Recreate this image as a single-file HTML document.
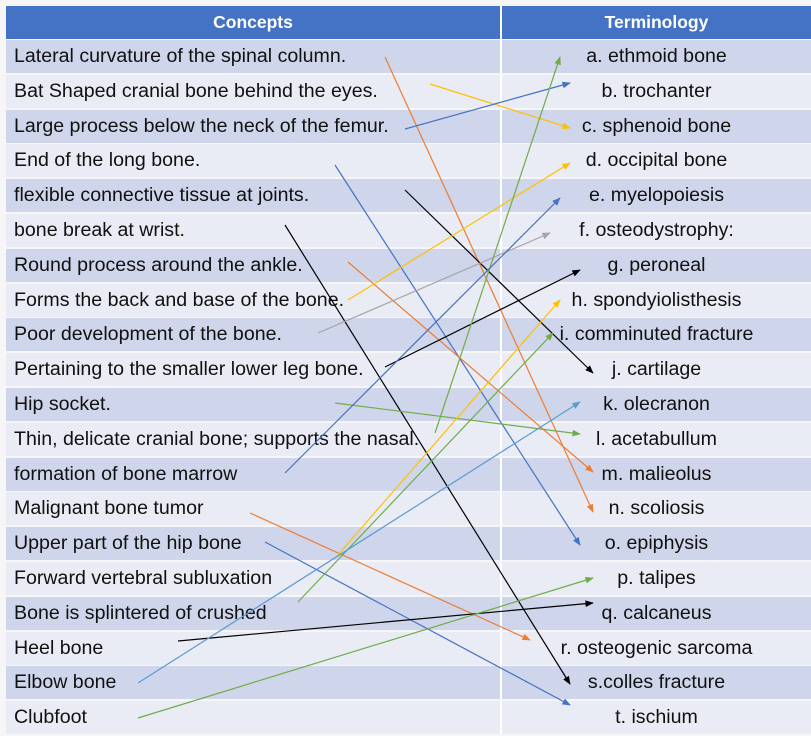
<!DOCTYPE html>
<html><head><meta charset="utf-8"><style>
body{margin:0;width:811px;height:736px;background:#f6f6f6;position:relative;overflow:hidden;font-family:"Liberation Sans",sans-serif}
.r{position:absolute;left:6px;width:805px;display:flex;box-sizing:border-box}
.c1,.c2{box-sizing:border-box;font-size:19.6px;color:#111;display:flex;align-items:center;white-space:nowrap}
.c1{width:496px;padding-left:8px;border-right:2px solid #fff}
.c2{flex:1;justify-content:center}
.h{top:6px;height:33px;background:#4472C4}
.h .c1,.h .c2{color:#fff;font-weight:bold;font-size:17.5px;justify-content:center;padding:0}
svg{position:absolute;left:0;top:0}
</style></head><body>
<div class="r h"><div class="c1">Concepts</div><div class="c2">Terminology</div></div>
<div id="rows"></div>
<script>
var L=["Lateral curvature of the spinal column.","Bat Shaped cranial bone behind the eyes.","Large process below the neck of the femur.","End of the long bone.","flexible connective tissue at joints.","bone break at wrist.","Round process around the ankle.","Forms the back and base of the bone.","Poor development of the bone.","Pertaining to the smaller lower leg bone.","Hip socket.","Thin, delicate cranial bone; supports the nasal.","formation of bone marrow","Malignant bone tumor","Upper part of the hip bone","Forward vertebral subluxation","Bone is splintered of crushed","Heel bone","Elbow bone","Clubfoot"];
var R=["a. ethmoid bone","b. trochanter","c. sphenoid bone","d. occipital bone","e. myelopoiesis","f. osteodystrophy:","g. peroneal","h. spondyiolisthesis","i. comminuted fracture","j. cartilage","k. olecranon","l. acetabullum","m. malieolus","n. scoliosis","o. epiphysis","p. talipes","q. calcaneus","r. osteogenic sarcoma","s.colles fracture","t. ischium"];
var h="";for(var i=0;i<20;i++){var t=40+i*34.8;h+='<div class="r" style="top:'+t+'px;height:33px;background:'+(i%2?'#E9EBF5':'#CFD5EA')+'"><div class="c1">'+L[i]+'</div><div class="c2">'+R[i]+'</div></div>';}
document.getElementById('rows').innerHTML=h;
</script>
<svg width="811" height="736">
<defs>
<marker id="m" viewBox="0 0 10 10" refX="9" refY="5" markerWidth="7" markerHeight="7" orient="auto"><path d="M0,1L10,5L0,9z" fill="context-stroke"/></marker>
</defs>
<g stroke-width="1.2" fill="none" marker-end="url(#m)">
<line x1="385" y1="57" x2="593" y2="512" stroke="#ED7D31"/>
<line x1="430" y1="84" x2="570" y2="128" stroke="#FFC000"/>
<line x1="405" y1="129" x2="570" y2="83" stroke="#4472C4"/>
<line x1="335" y1="165" x2="580" y2="545" stroke="#4472C4"/>
<line x1="405" y1="190" x2="593" y2="373" stroke="#000"/>
<line x1="285" y1="225" x2="570" y2="684" stroke="#000"/>
<line x1="348" y1="262" x2="593" y2="472" stroke="#ED7D31"/>
<line x1="348" y1="300" x2="570" y2="163" stroke="#FFC000"/>
<line x1="318" y1="333" x2="550" y2="233" stroke="#A5A5A5"/>
<line x1="385" y1="367" x2="580" y2="270" stroke="#000"/>
<line x1="335" y1="403" x2="580" y2="434" stroke="#70AD47"/>
<line x1="435" y1="433" x2="560" y2="57" stroke="#70AD47"/>
<line x1="285" y1="473" x2="560" y2="198" stroke="#4472C4"/>
<line x1="250" y1="513" x2="530" y2="640" stroke="#ED7D31"/>
<line x1="265" y1="542" x2="570" y2="705" stroke="#4472C4"/>
<line x1="337" y1="556" x2="560" y2="300" stroke="#FFC000"/>
<line x1="298" y1="602" x2="553" y2="333" stroke="#70AD47"/>
<line x1="178" y1="641" x2="593" y2="603" stroke="#000"/>
<line x1="138" y1="683" x2="580" y2="402" stroke="#5B9BD5"/>
<line x1="138" y1="718" x2="593" y2="578" stroke="#70AD47"/>
</g>
</svg>
</body></html>
